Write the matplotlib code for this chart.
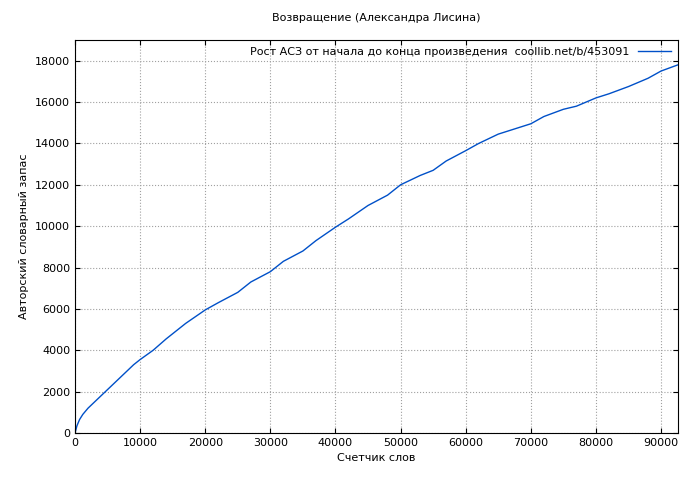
import matplotlib
matplotlib.use("Agg")
import matplotlib.pyplot as plt

# word counter vs author's vocabulary
words = [0, 300, 700, 1200, 2000, 3500, 5000, 7000, 9000, 10000, 12000, 14000, 15000,
         17000, 20000, 22000, 25000, 27000, 30000, 32000, 35000, 37000, 40000, 42000,
         45000, 48000, 50000, 53000, 55000, 57000, 60000, 62000, 65000, 68000, 70000,
         72000, 75000, 77000, 80000, 82000, 85000, 88000, 90000, 92600]
vocab = [0, 350, 650, 900, 1200, 1650, 2100, 2700, 3300, 3550, 4000, 4550, 4800,
         5300, 5950, 6300, 6800, 7300, 7800, 8300, 8800, 9300, 9950, 10350,
         11000, 11500, 12000, 12450, 12700, 13150, 13650, 14000, 14450, 14750, 14950,
         15300, 15650, 15800, 16200, 16400, 16750, 17150, 17500, 17800]

fig = plt.figure(figsize=(7, 4.8), dpi=100)
ax = fig.add_axes([75/700, 47/480, 603/700, 393/480])
ax.plot(words, vocab, color="#0050c8", lw=1,
        label="Рост АСЗ от начала до конца произведения  coollib.net/b/453091")
ax.set_xlim(0, 92600)
ax.set_ylim(0, 19000)
ax.set_xticks(range(0, 90001, 10000))
ax.set_yticks(range(0, 18001, 2000))
ax.grid(True, color="#a0a0a0", ls=":", lw=0.8)
ax.tick_params(labelsize=8, direction="in", top=True, right=True)
ax.set_xlabel("Счетчик слов", fontsize=8)
ax.set_ylabel("Авторский словарный запас", fontsize=8)
ax.set_title("Возвращение (Александра Лисина)", fontsize=8, pad=14)
ax.legend(loc="upper right", fontsize=8, frameon=False, markerfirst=False,
          handlelength=3, borderaxespad=0.2)
fig.savefig("out.png")
